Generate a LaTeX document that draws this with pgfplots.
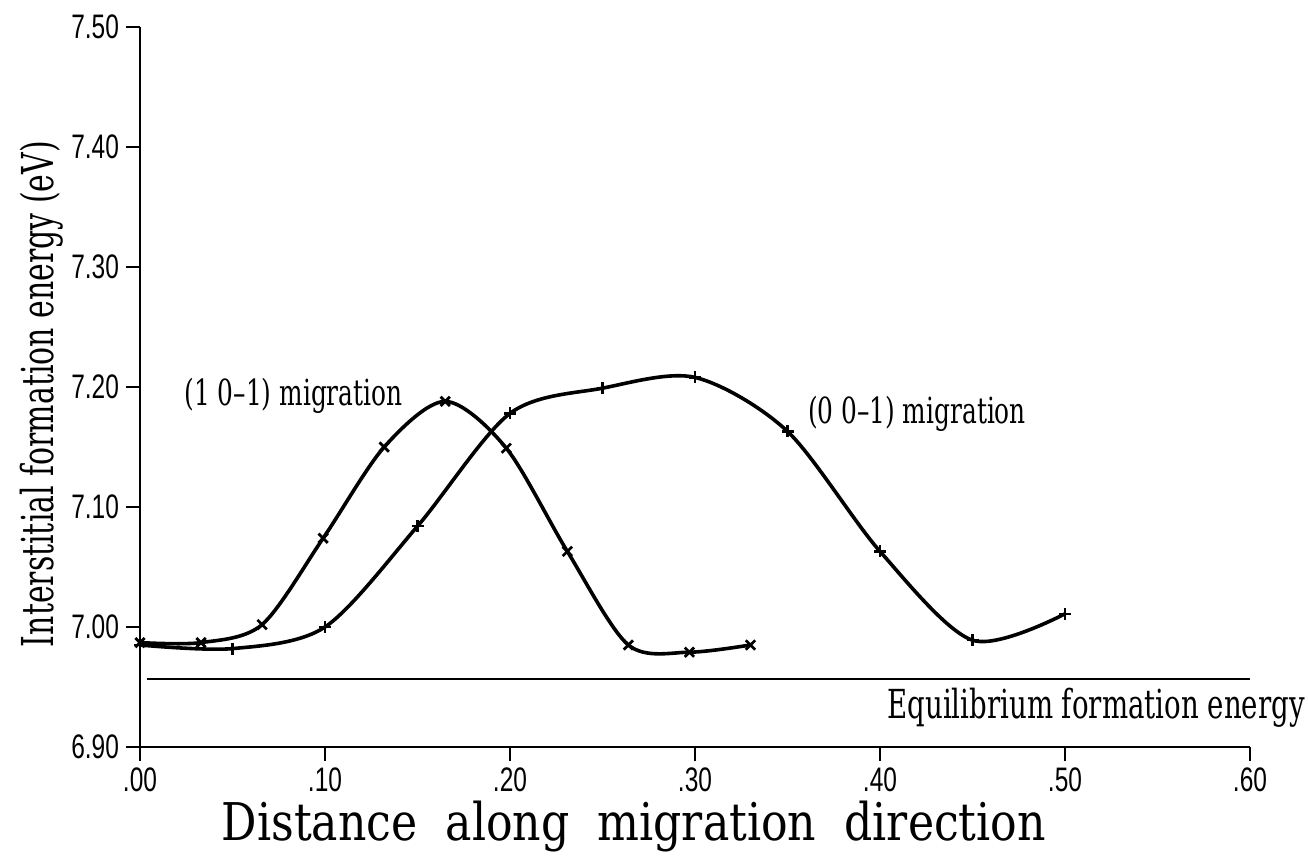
\documentclass[border=0pt]{standalone}
\usepackage{pgfplots}
\pgfplotsset{compat=1.18}
\usepackage{fontspec}
\setmainfont{DejaVu Serif}[FakeStretch=0.8]
\newfontfamily\condfont{DejaVu Serif}[FakeStretch=0.69]
\newfontfamily\ylabfont{DejaVu Serif}[FakeStretch=0.68]
\newfontfamily\xlabfont{DejaVu Serif}[FakeStretch=0.85]
\newfontfamily\tickfont{Liberation Sans}[FakeStretch=0.72]
\begin{document}
\begin{tikzpicture}
\begin{axis}[
  scale only axis,
  width=555pt, height=360pt,
  xmin=0, xmax=0.6, ymin=6.9, ymax=7.5,
  axis lines=left,
  axis line style={-, line width=1.4pt},
  tick align=outside,
  major tick length=7pt,
  tick style={line width=1.2pt, black},
  xtick={0,0.1,0.2,0.3,0.4,0.5,0.6},
  xticklabels={.00,.10,.20,.30,.40,.50,.60},
  ytick={6.9,7.0,7.1,7.2,7.3,7.4,7.5},
  yticklabels={6.90,7.00,7.10,7.20,7.30,7.40,7.50},
  ticklabel style={font=\tickfont\fontsize{17}{19}\selectfont},
  xlabel={Distance\hspace{7pt} along\hspace{7pt} migration\hspace{7pt} direction},
  ylabel={Interstitial formation energy (eV)},
  xlabel style={font=\xlabfont\fontsize{26}{29}\selectfont, at={(axis description cs:0.445,-0.11)}, anchor=center},
  ylabel style={font=\ylabfont\fontsize{22}{25}\selectfont, at={(axis description cs:-0.089,0.49)}, anchor=center},
  clip=false,
]
\coordinate (BL) at (rel axis cs:0,0);
\coordinate (TR) at (rel axis cs:1,1);
% (1 0-1) migration
\addplot[black, line width=1.8pt, smooth, mark=x, mark size=3.3pt, mark options={line width=1.4pt}] coordinates {
(0,6.987) (0.033,6.987) (0.066,7.002) (0.099,7.074) (0.132,7.150) (0.165,7.188)
(0.198,7.149) (0.231,7.063) (0.264,6.985) (0.297,6.979) (0.330,6.985)};
% (0 0-1) migration
\addplot[black, line width=1.8pt, smooth, mark=+, mark size=3pt, mark options={line width=1.2pt}] coordinates {
(0,6.985) (0.05,6.982) (0.1,7.000) (0.15,7.084) (0.2,7.178) (0.25,7.199)
(0.3,7.208) (0.35,7.163) (0.4,7.063) (0.45,6.989) (0.5,7.011)};
% equilibrium
\addplot[black, line width=1pt] coordinates {(0.004,6.957) (0.6,6.957)};
\node[font=\condfont\fontsize{18}{20}\selectfont] at (axis cs:0.083,7.193) {(1 0–1) migration};
\node[font=\condfont\fontsize{18}{20}\selectfont] at (axis cs:0.420,7.178) {(0 0–1) migration};
\node[font=\condfont\fontsize{20}{22}\selectfont] at (axis cs:0.5168,6.933) {Equilibrium formation energy};
\end{axis}
\pgfresetboundingbox
\path[use as bounding box] ([shift={(-70pt,-56pt)}]BL) rectangle ([shift={(29pt,13.5pt)}]TR);
\end{tikzpicture}
\end{document}
